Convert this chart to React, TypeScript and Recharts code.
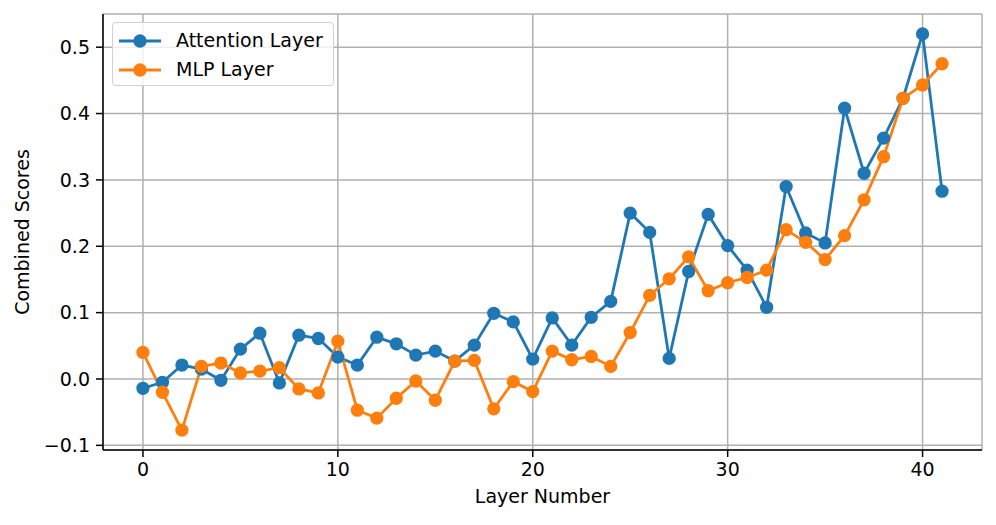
import {
  CartesianGrid,
  Legend,
  Line,
  LineChart,
  XAxis,
  YAxis,
} from "recharts";

const layers = [
  0, 1, 2, 3, 4, 5, 6, 7, 8, 9, 10, 11, 12, 13, 14, 15, 16, 17, 18, 19, 20,
  21, 22, 23, 24, 25, 26, 27, 28, 29, 30, 31, 32, 33, 34, 35, 36, 37, 38, 39,
  40, 41,
];

const attention = [
  -0.014, -0.005, 0.021, 0.015, -0.002, 0.045, 0.069, -0.006, 0.066, 0.061,
  0.033, 0.021, 0.063, 0.053, 0.036, 0.042, 0.027, 0.051, 0.099, 0.086, 0.03,
  0.092, 0.051, 0.093, 0.117, 0.25, 0.221, 0.031, 0.162, 0.248, 0.201, 0.164,
  0.108, 0.29, 0.22, 0.205, 0.408, 0.31, 0.363, 0.423, 0.52, 0.283,
];

const mlp = [
  0.04, -0.02, -0.077, 0.019, 0.024, 0.009, 0.012, 0.017, -0.015, -0.021,
  0.057, -0.047, -0.059, -0.029, -0.003, -0.032, 0.027, 0.028, -0.045, -0.004,
  -0.019, 0.042, 0.029, 0.034, 0.019, 0.07, 0.126, 0.151, 0.184, 0.133, 0.145,
  0.153, 0.164, 0.225, 0.206, 0.18, 0.216, 0.27, 0.335, 0.423, 0.443, 0.475,
];

const xTicks = [0, 10, 20, 30, 40];
const yTicks = [-0.1, 0, 0.1, 0.2, 0.3, 0.4, 0.5];

const series = [
  { key: "attention", name: "Attention Layer", color: "#1f77b4" },
  { key: "mlp", name: "MLP Layer", color: "#ff7f0e" },
];

const data = layers.map((layer, i) => ({
  layer,
  attention: attention[i],
  mlp: mlp[i],
}));

const FONT = "'DejaVu Sans', sans-serif";
const fmt = (v: number) => (v < 0 ? "\u2212" + Math.abs(v).toFixed(1) : v.toFixed(1));

function LegendBox() {
  return (
    <div
      style={{
        boxSizing: "border-box",
        width: 222,
        height: 64,
        border: "1px solid #d0d0d0",
        borderRadius: 4,
        background: "rgba(255,255,255,0.8)",
        paddingTop: 3,
        fontFamily: FONT,
        fontSize: 19,
        color: "#000",
      }}
    >
      {series.map((s) => (
        <div
          key={s.key}
          style={{ display: "flex", alignItems: "center", height: 29 }}
        >
          <svg width={42} height={16} style={{ marginLeft: 6 }}>
            <line x1={0} y1={8} x2={42} y2={8} stroke={s.color} strokeWidth={2.8} />
            <circle cx={21} cy={8} r={5.7} fill={s.color} stroke={s.color} strokeWidth={1.9} />
          </svg>
          <span style={{ marginLeft: 15, lineHeight: "29px" }}>{s.name}</span>
        </div>
      ))}
    </div>
  );
}

export default function App() {
  return (
    <div style={{ position: "absolute", left: 0, top: 0, background: "#fff" }}>
      <LineChart
        width={996}
        height={525}
        data={data}
        margin={{ top: 14, right: 14, bottom: 0, left: 0 }}
        style={{ fontFamily: FONT }}
      >
        <CartesianGrid stroke="#b0b0b0" strokeWidth={1.5} />
        <XAxis
          dataKey="layer"
          type="number"
          domain={[-2.05, 43.05]}
          allowDataOverflow
          ticks={xTicks}
          height={75}
          tickSize={7}
          tickMargin={6}
          axisLine={{ stroke: "#000", strokeWidth: 1.5 }}
          tickLine={{ stroke: "#000", strokeWidth: 1.5 }}
          tick={{ fill: "#000", fontSize: 19, fontFamily: FONT }}
          label={{
            value: "Layer Number",
            position: "insideBottom",
            offset: 22,
            fill: "#000",
            fontSize: 19,
            fontFamily: FONT,
          }}
        />
        <XAxis
          xAxisId="top"
          orientation="top"
          dataKey="layer"
          type="number"
          domain={[-2.05, 43.05]}
          allowDataOverflow
          height={0}
          tick={false}
          tickLine={false}
          axisLine={{ stroke: "#000", strokeWidth: 1.5 }}
        />
        <YAxis
          type="number"
          domain={[-0.107, 0.55]}
          allowDataOverflow
          ticks={yTicks}
          width={103}
          tickSize={7}
          tickMargin={6}
          tickFormatter={fmt}
          axisLine={{ stroke: "#000", strokeWidth: 1.5 }}
          tickLine={{ stroke: "#000", strokeWidth: 1.5 }}
          tick={{ fill: "#000", fontSize: 19, fontFamily: FONT }}
          label={{
            value: "Combined Scores",
            angle: -90,
            position: "insideLeft",
            offset: 22,
            textAnchor: "middle",
            fill: "#000",
            fontSize: 19,
            fontFamily: FONT,
          }}
        />
        <YAxis
          yAxisId="right"
          orientation="right"
          type="number"
          domain={[-0.107, 0.55]}
          allowDataOverflow
          width={0}
          tick={false}
          tickLine={false}
          axisLine={{ stroke: "#000", strokeWidth: 1.5 }}
        />
        <Legend
          layout="vertical"
          align="center"
          verticalAlign="middle"
          wrapperStyle={{ left: 112, top: 22, width: "auto", height: "auto" }}
          content={() => <LegendBox />}
        />
        {series.map((s) => (
          <Line
            key={s.key}
            dataKey={s.key}
            name={s.name}
            stroke={s.color}
            strokeWidth={2.8}
            dot={{ r: 5.7, fill: s.color, stroke: s.color, strokeWidth: 1.9 }}
            activeDot={false}
            isAnimationActive={false}
          />
        ))}
      </LineChart>
    </div>
  );
}
